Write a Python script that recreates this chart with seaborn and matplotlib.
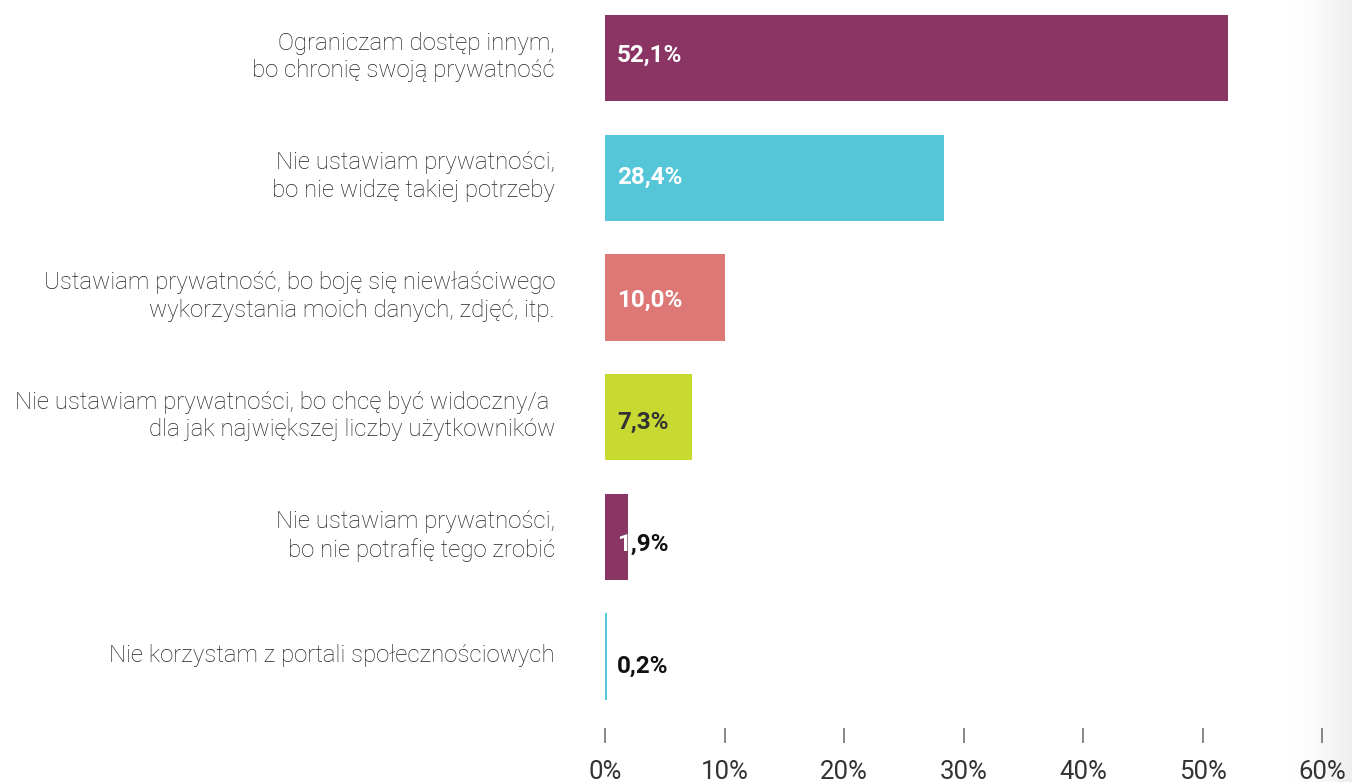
import numpy as np
import pandas as pd
import matplotlib
matplotlib.use("Agg")
import matplotlib.pyplot as plt
import seaborn as sns
from matplotlib.colors import LinearSegmentedColormap
from matplotlib.transforms import Bbox, TransformedBbox

categories = [
    "Ograniczam dostęp innym,\nbo chronię swoją prywatność",
    "Nie ustawiam prywatności,\nbo nie widzę takiej potrzeby",
    "Ustawiam prywatność, bo boję się niewłaściwego\nwykorzystania moich danych, zdjęć, itp.",
    "Nie ustawiam prywatności, bo chcę być widoczny/a \ndla jak największej liczby użytkowników",
    "Nie ustawiam prywatności,\nbo nie potrafię tego zrobić",
    "Nie korzystam z portali społecznościowych",
]
values = [52.1, 28.4, 10.0, 7.3, 1.9, 0.2]
value_labels = ["52,1%", "28,4%", "10,0%", "7,3%", "1,9%", "0,2%"]
bar_colors = ["#8B3565", "#55C6D8", "#DE7877", "#C8DA32", "#8B3565", "#55C6D8"]
label_colors = ["white", "white", "white", "#333333", "#111111", "#111111"]
tick_values = [0, 10, 20, 30, 40, 50, 60]
tick_labels = ["0%", "10%", "20%", "30%", "40%", "50%", "60%"]

sns.set_theme(style="white")
plt.rcParams["font.family"] = ["Roboto", "DejaVu Sans"]

W, H = 1352, 782
fig = plt.figure(figsize=(W / 100, H / 100), dpi=100)

# right-edge light gradient
gax = fig.add_axes([1290 / W, 0, (W - 1290) / W, 1])
grad = np.linspace(0, 1, 100) ** 1.5
gimg = np.tile(grad, (10, 1))
cmap = LinearSegmentedColormap.from_list("g", ["#ffffff", "#eeeeee"])
gax.imshow(gimg, aspect="auto", cmap=cmap, vmin=0, vmax=1)
gax.axis("off")

ax_left, ax_right = 605, 1322
ax_top, ax_bottom = 15, 728
ax = fig.add_axes([ax_left / W, 1 - ax_bottom / H, (ax_right - ax_left) / W, (ax_bottom - ax_top) / H])
ax.patch.set_alpha(0)

df = pd.DataFrame({"cat": categories, "val": values})
sns.barplot(data=df, x="val", y="cat", hue="cat", palette=bar_colors, orient="h",
            width=0.72, legend=False, ax=ax, saturation=1, linewidth=0)

ax.set_xlim(0, 60)
ax.set_ylim(5.597, -0.36)
ax.set_xlabel("")
ax.set_ylabel("")
ax.set_yticks([])
for s in ax.spines.values():
    s.set_visible(False)
ax.set_xticks(tick_values)
ax.set_xticklabels(tick_labels, fontsize=18.5, color="#333333")
ax.tick_params(axis="x", direction="out", length=11, width=1.1, color="#666666", pad=12, bottom=True)

# category labels
for i, c in enumerate(categories):
    fig.text(555 / W, 1 - (57 + i * 119.7) / H, c, ha="right", va="center",
             fontsize=17.3, fontweight="light", color="#222222", linespacing=1.25,
             family=["Roboto", "DejaVu Sans"])

# value labels; the part lying over the bar is white
bars = ax.patches
x_data = ax.transData.inverted().transform((fig.transFigure.transform((617 / W, 0))[0], 0))[0]
for i, (v, lab, lc) in enumerate(zip(values, value_labels, label_colors)):
    y = i + 0.02 * (i - 1)
    if v < 5:
        ax.text(x_data, y, lab, ha="left", va="center", fontsize=17.5, fontweight="bold", color=lc)
        t2 = ax.text(x_data, y, lab, ha="left", va="center", fontsize=17.5, fontweight="bold", color="white")
        bb = bars[i].get_bbox()
        t2.set_clip_box(TransformedBbox(Bbox([[bb.x0, bb.y0], [bb.x1, bb.y1]]), ax.transData))
        t2.set_clip_on(True)
    else:
        ax.text(x_data, y, lab, ha="left", va="center", fontsize=17.5, fontweight="bold", color=lc)

fig.savefig("out.png", dpi=100)
